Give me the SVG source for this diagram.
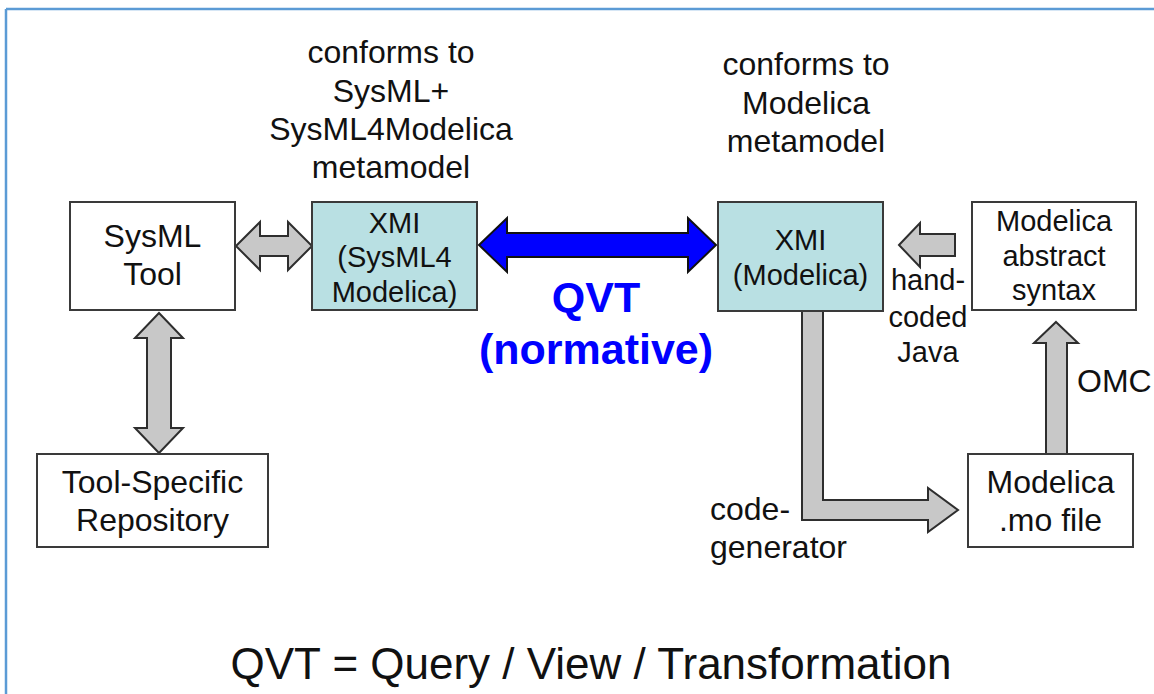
<svg xmlns="http://www.w3.org/2000/svg" width="1154" height="694" viewBox="0 0 1154 694">
<style>
text{font-family:"Liberation Sans",Arial,sans-serif;fill:#111;text-anchor:middle}
.box{fill:#fff;stroke:#3a3a3a;stroke-width:2}
.xmi{fill:#b9e0e3;stroke:#3a3a3a;stroke-width:2}
.garrow{fill:#c8c8c8;stroke:#2e2e2e;stroke-width:2;stroke-linejoin:miter}
.barrow{fill:#0000ff;stroke:#111;stroke-width:2}
.t32{font-size:32px}
.t29{font-size:29px}
.lbl{font-size:32px}
.qvt{font-size:43px;font-weight:bold;fill:#0000ff}
</style>
<rect width="1154" height="694" fill="#fff"/>
<g id="frame" stroke="#5b9bd5" stroke-width="2.5" fill="none">
<line x1="6" y1="9" x2="1154" y2="9"/>
<line x1="6" y1="9" x2="6" y2="694"/>
</g>
<g id="connectors">
<polygon class="garrow" points="236,246 260,222 260,236 288,236 288,222 312,246 288,270 288,256 260,256 260,270"/>
<polygon class="garrow" points="159,313 183,338 171,338 171,428 183,428 159,453 135,428 147,428 147,338 135,338"/>
<polygon class="barrow" points="479,245 507,218 507,233 688,233 688,218 716,245 688,272 688,257 507,257 507,272"/>
<polygon class="garrow" points="899,245 920,223 920,234 955,234 955,256 920,256 920,267"/>
<polygon class="garrow" points="1056,322 1078,343 1067,343 1067,454 1046,454 1046,343 1034,343"/>
<polygon class="garrow" points="802,311 823,311 823,500 928,500 928,488 958,510 928,532 928,520 802,520"/>
</g>
<g id="sysml-tool">
<rect class="box" x="70" y="202" width="165" height="108"/>
<text class="t32" x="152.5" y="247">SysML</text>
<text class="t32" x="152.5" y="285">Tool</text>
</g>
<g id="xmi-sysml4modelica">
<rect class="xmi" x="312" y="202" width="165" height="108"/>
<text class="t29" x="394.5" y="233">XMI</text>
<text class="t29" x="394.5" y="267">(SysML4</text>
<text class="t29" x="394.5" y="302">Modelica)</text>
</g>
<g id="xmi-modelica">
<rect class="xmi" x="718" y="202" width="165" height="109"/>
<text class="t29" x="800.5" y="250">XMI</text>
<text class="t29" x="800.5" y="285">(Modelica)</text>
</g>
<g id="modelica-abstract-syntax">
<rect class="box" x="972" y="202" width="164" height="108"/>
<text class="t29" x="1054" y="231">Modelica</text>
<text class="t29" x="1054" y="266">abstract</text>
<text class="t29" x="1054" y="300">syntax</text>
</g>
<g id="tool-specific-repository">
<rect class="box" x="37" y="454" width="231" height="93"/>
<text class="t32" x="152.5" y="493">Tool-Specific</text>
<text class="t32" x="152.5" y="531">Repository</text>
</g>
<g id="modelica-mo-file">
<rect class="box" x="968" y="454" width="165" height="93"/>
<text class="t32" x="1050.5" y="493">Modelica</text>
<text class="t32" x="1050.5" y="531">.mo file</text>
</g>
<g id="labels">
<text class="lbl" x="391" y="63">conforms to</text>
<text class="lbl" x="391" y="102">SysML+</text>
<text class="lbl" x="391" y="140">SysML4Modelica</text>
<text class="lbl" x="391" y="178">metamodel</text>
<text class="lbl" x="806" y="75">conforms to</text>
<text class="lbl" x="806" y="114">Modelica</text>
<text class="lbl" x="806" y="152">metamodel</text>
<text class="qvt" x="596" y="312">QVT</text>
<text class="qvt" x="596" y="364">(normative)</text>
<text class="t29" x="928" y="290">hand-</text>
<text class="t29" x="928" y="327">coded</text>
<text class="t29" x="928" y="362">Java</text>
<text class="lbl" x="1077" y="392" style="text-anchor:start">OMC</text>
<text class="lbl" x="710" y="520" style="text-anchor:start">code-</text>
<text class="lbl" x="710" y="558" style="text-anchor:start">generator</text>
<text x="591" y="679" style="font-size:44px">QVT = Query / View / Transformation</text>
</g>
</svg>
